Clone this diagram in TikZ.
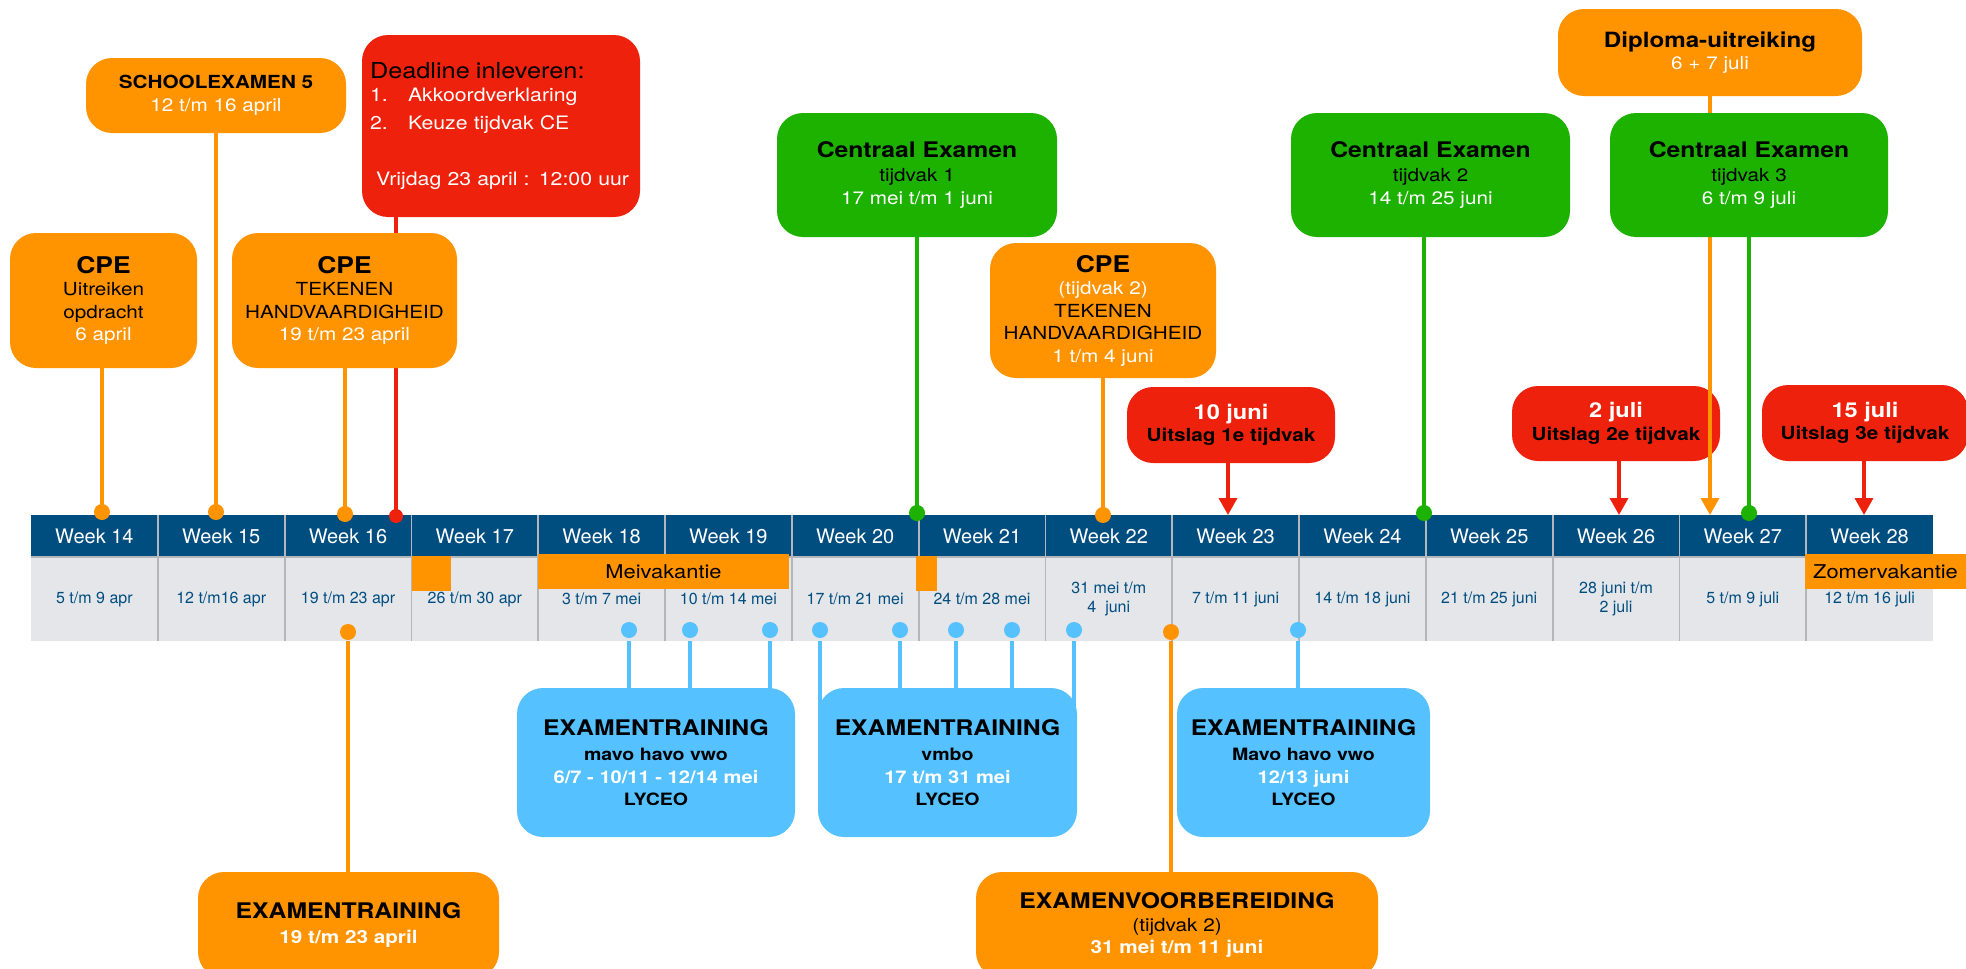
\documentclass[tikz,border=0pt]{standalone}
\usepackage{fontspec}
\setmainfont{TeX Gyre Heros}
\newfontfamily\boxfont{TeX Gyre Heros}[FakeStretch=1.15]
\usetikzlibrary{positioning,arrows.meta}

\definecolor{orng}{HTML}{FF9300}
\definecolor{rood}{HTML}{EE220C}
\definecolor{groen}{HTML}{1DB100}
\definecolor{lblauw}{HTML}{56C1FF}
\definecolor{dblauw}{HTML}{004D80}
\definecolor{grijs}{HTML}{E4E6EA}
\definecolor{scheid}{HTML}{B3B6BA}

\newcommand\kop[2][21.5]{{\bfseries\fontsize{#1}{#1}\selectfont #2}}
\newcommand\vet[2][17]{{\bfseries\fontsize{#1}{#1}\selectfont #2}}
\newcommand\wit[1]{\textcolor{white}{#1}}

\pgfdeclarelayer{achter}
\pgfsetlayers{achter,main}

\begin{document}
\begin{tikzpicture}[x=1pt,y=-1pt,
    every node/.style={outer sep=0pt},
    week/.style={fill=dblauw, text=white, minimum width=126.8pt, minimum height=42pt, inner sep=0pt, font=\fontsize{20}{22}\selectfont},
    days/.style={fill=grijs, text=dblauw, minimum width=126.8pt, minimum height=84pt, inner sep=0pt, align=center, font=\fontsize{16}{19}\selectfont},
    vak/.style={fill=orng, minimum height=35pt, inner sep=0pt, font=\boxfont\fontsize{19}{22}\selectfont},
    kader/.style={rounded corners=26pt, inner sep=0pt, align=center, font=\boxfont\fontsize{18}{22.5}\selectfont},
    okader/.style={kader, fill=orng},
    rkader/.style={kader, fill=rood},
    gkader/.style={kader, fill=groen, font=\boxfont\fontsize{18}{23.5}\selectfont},
    bkader/.style={kader, fill=lblauw},
    lijn/.style={line width=3.5pt},
    pijl/.style={lijn, -{Triangle[width=18pt,length=17pt]}},
    scheiding/.style={scheid, line width=1.8pt}]
  \useasboundingbox (0,0) rectangle (1966,969);

  \node[week] (w14) at (94.4,536) {Week 14};
  \node[days, below=0pt of w14] (d14) {5 t/m 9 apr};
  \foreach \n/\datum [remember=\n as \p (initially 14)] in {15/{12 t/m16 apr}, 16/{19 t/m 23 apr}, 17/{26 t/m 30 apr}, 18/{3 t/m 7 mei}, 19/{10 t/m 14 mei}, 20/{17 t/m 21 mei}, 21/{24 t/m 28 mei}, 22/{31 mei t/m\\4\ \ juni}, 23/{7 t/m 11 juni}, 24/{14 t/m 18 juni}, 25/{21 t/m 25 juni}, 26/{28 juni t/m\\2 juli}, 27/{5 t/m 9 juli}, 28/{12 t/m 16 juli}}{
    \node[week, right=0pt of w\p] (w\n) {Week \n};
    \node[days, below=0pt of w\n] (d\n) {\datum};
  }
  \draw[scheiding] (w14.south west) -- (w28.south east);
  \foreach \n in {14,...,27}
    \draw[scheiding] (w\n.north east) -- (d\n.south east);

  \node[vak, minimum width=251pt] (mei) at (663.5,571.5) {Meivakantie};
  \node[vak, minimum width=39pt] (v17) at (431.5,573.5) {};
  \node[vak, minimum width=21pt] (v21) at (926.5,573.5) {};
  \node[vak, minimum width=161pt] (zomer) at (1885.5,571.5) {Zomervakantie};

  \node[okader, minimum width=187pt, minimum height=135pt] (cpe1) at (103.5,300.5) {\kop[23]{CPE}\\Uitreiken\\opdracht\\\wit{6 april}};
  \node[okader, minimum width=260pt, minimum height=75pt] (se5) at (216,95.5) {\kop[18]{SCHOOLEXAMEN 5}\\\wit{12 t/m 16 april}};
  \node[rkader, minimum width=278pt, minimum height=182pt, align=left, text width=262pt, font=\boxfont\fontsize{18.5}{26}\selectfont] (dl) at (501,126) {{\fontsize{22}{26}\selectfont Deadline inleveren:}\\[-3.5pt]
    \wit{\makebox[38pt][l]{1.}Akkoordverklaring}\\[2pt]
    \wit{\makebox[38pt][l]{2.}Keuze tijdvak CE}\\[30pt]
    \wit{\hspace*{6pt}Vrijdag 23 april : 12:00 uur}};
  \node[okader, minimum width=225pt, minimum height=135pt] (cpe2) at (344.5,300.5) {\kop[23]{CPE}\\TEKENEN\\HANDVAARDIGHEID\\\wit{19 t/m 23 april}};
  \node[gkader, minimum width=280pt, minimum height=124pt] (ce1) at (917,175) {\kop{Centraal Examen}\\tijdvak 1\\\wit{17 mei t/m 1 juni}};
  \node[okader, minimum width=226pt, minimum height=135pt] (cpe3) at (1103,310.5) {\kop[23]{CPE}\\\wit{(tijdvak 2)}\\TEKENEN\\HANDVAARDIGHEID\\\wit{1 t/m 4 juni}};
  \node[rkader, minimum width=208pt, minimum height=76pt] (r10) at (1231,425) {\wit{\kop[20.5]{10 juni}}\\\kop[18]{Uitslag 1e tijdvak}};
  \node[gkader, minimum width=279pt, minimum height=124pt] (ce2) at (1430.5,175) {\kop{Centraal Examen}\\tijdvak 2\\\wit{14 t/m 25 juni}};
  \node[okader, minimum width=304pt, minimum height=87pt] (dip) at (1710,52.5) {\kop[21]{Diploma-uitreiking}\\\wit{6 + 7 juli}};
  \node[rkader, minimum width=208pt, minimum height=75pt] (r2) at (1616,423.5) {\wit{\kop[20.5]{2 juli}}\\\kop[18]{Uitslag 2e tijdvak}};
  \node[rkader, minimum width=206pt, minimum height=76pt] (r15) at (1865,423) {\wit{\kop[20.5]{15 juli}}\\\kop[18]{Uitslag 3e tijdvak}};
  \coordinate (a27) at (1710,515);
  \draw[pijl, orng] (dip.south) -- (a27);
  \node[gkader, minimum width=278pt, minimum height=124pt] (ce3) at (1749,175) {\kop{Centraal Examen}\\tijdvak 3\\\wit{6 t/m 9 juli}};

  \node[okader, minimum width=301pt, minimum height=106pt] (et) at (348.5,925) {\kop{EXAMENTRAINING}\\[3pt]\wit{\vet[18]{19 t/m 23 april}}};
  \node[bkader, minimum width=278pt, minimum height=149pt] (bl1) at (656,762.5) {\kop{EXAMENTRAINING}\\[3pt]\vet{mavo havo vwo}\\\wit{\vet[17.5]{6/7 - 10/11 - 12/14 mei}}\\\vet{LYCEO}};
  \node[bkader, minimum width=259pt, minimum height=149pt] (bl2) at (947.5,762.5) {\kop{EXAMENTRAINING}\\[3pt]\vet{vmbo}\\\wit{\vet[17.5]{17 t/m 31 mei}}\\\vet{LYCEO}};
  \node[okader, minimum width=402pt, minimum height=106pt] (ev) at (1177,925) {\kop{EXAMENVOORBEREIDING}\\(tijdvak 2)\\\wit{\vet[18]{31 mei t/m 11 juni}}};
  \node[bkader, minimum width=253pt, minimum height=149pt] (bl3) at (1303.5,762.5) {\kop{EXAMENTRAINING}\\[3pt]\vet{Mavo havo vwo}\\\wit{\vet[17.5]{12/13 juni}}\\\vet{LYCEO}};

  \coordinate (p14) at (102,512);
  \coordinate (p15) at (216,512);
  \coordinate (p16) at (345,514);
  \coordinate (p16r) at (396,516);
  \coordinate (p20) at (917,513);
  \coordinate (p22) at (1103,515);
  \coordinate (p24) at (1424,513);
  \coordinate (p27) at (1749,513);
  \coordinate (a23) at (1228,515);
  \coordinate (a26) at (1619,515);
  \coordinate (a28) at (1864,515);
  \coordinate (q16) at (348,632);
  \coordinate (q22) at (1171,632);

  \begin{pgfonlayer}{achter}
    \draw[lijn, orng] (p14) -- (p14 |- cpe1.center);
    \draw[lijn, orng] (p15) -- (p15 |- se5.center);
    \draw[lijn, orng] (p16) -- (p16 |- cpe2.center);
    \draw[lijn, rood] (p16r) -- (p16r |- dl.center);
    \draw[lijn, groen] (p20) -- (p20 |- ce1.center);
    \draw[lijn, orng] (p22) -- (p22 |- cpe3.center);
    \draw[lijn, groen] (p24) -- (p24 |- ce2.center);
    \draw[lijn, groen] (p27) -- (p27 |- ce3.center);
    \draw[pijl, rood] (a23 |- r10.center) -- (a23);
    \draw[pijl, rood] (a26 |- r2.center) -- (a26);
    \draw[pijl, rood] (a28 |- r15.center) -- (a28);
    \draw[lijn, orng] (q16) -- (q16 |- et.center);
    \draw[lijn, orng] (q22) -- (q22 |- ev.center);
    \foreach \x/\k in {629/bl1, 690/bl1, 770/bl1, 820/bl2, 900/bl2, 956/bl2, 1012/bl2, 1074/bl2, 1298/bl3}{
      \coordinate (k\x) at (\x,630);
      \draw[lijn, lblauw] (k\x) -- (k\x |- \k.center);
    }
  \end{pgfonlayer}

  \foreach \p in {p14,p15,p16,p22,q16,q22}
    \fill[orng] (\p) circle (8pt);
  \fill[rood] (p16r) circle (7pt);
  \foreach \p in {p20,p24,p27}
    \fill[groen] (\p) circle (8pt);
  \foreach \x in {629,690,770,820,900,956,1012,1074,1298}
    \fill[lblauw] (k\x) circle (8pt);
\end{tikzpicture}
\end{document}
